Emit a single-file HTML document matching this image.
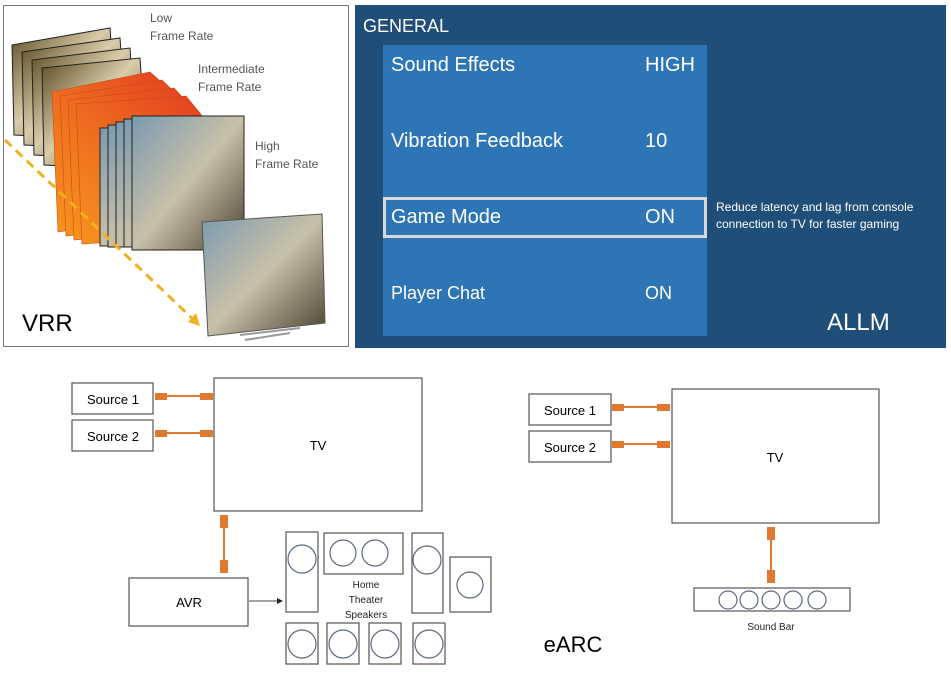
<!DOCTYPE html>
<html><head><meta charset="utf-8"><style>
html,body{margin:0;padding:0;background:#fff;}
svg{display:block;font-family:"Liberation Sans",sans-serif;}
</style></head><body>
<svg width="951" height="678" viewBox="0 0 951 678" xmlns="http://www.w3.org/2000/svg">
<defs>
<linearGradient id="gold" x1="0" y1="0" x2="1" y2="1"><stop offset="0" stop-color="#5a4a22"/><stop offset=".45" stop-color="#d8ccaa"/><stop offset="1" stop-color="#3a2a10"/></linearGradient>
<linearGradient id="org" x1="0" y1="1" x2="1" y2="0"><stop offset="0" stop-color="#f7941e"/><stop offset="1" stop-color="#e23a22"/></linearGradient>
<linearGradient id="pic" x1="0" y1="0" x2="1" y2="1"><stop offset="0" stop-color="#7a9ab0"/><stop offset=".5" stop-color="#c8c0a8"/><stop offset="1" stop-color="#4a4030"/></linearGradient>
</defs>
<rect x="3.5" y="5.5" width="345" height="341" fill="#fff" stroke="#777"/>
<g stroke="#222" stroke-width="1">
<polygon points="12,45 110,28 118,140 14,135" fill="url(#gold)"/>
<polygon points="22,52 120,38 128,150 24,145" fill="url(#gold)"/>
<polygon points="32,60 130,48 138,160 34,155" fill="url(#gold)"/>
<polygon points="42,68 140,58 148,170 44,165" fill="url(#gold)"/>
</g>
<g stroke="#c85010" stroke-width="0.6">
<polygon points="52,92 150,72 195,112 200,210 58,232" fill="url(#org)"/>
<polygon points="60,96 162,80 205,122 208,218 66,236" fill="url(#org)"/>
<polygon points="68,100 174,88 214,132 214,226 74,240" fill="url(#org)"/>
<polygon points="76,104 186,96 222,140 220,234 82,244" fill="url(#org)"/>
</g>
<g stroke="#222">
<rect x="100" y="128" width="110" height="118" fill="url(#pic)"/>
<rect x="108" y="125" width="115" height="122" fill="url(#pic)"/>
<rect x="116" y="122" width="115" height="125" fill="url(#pic)"/>
<rect x="124" y="119" width="115" height="128" fill="url(#pic)"/>
<rect x="132" y="116" width="112" height="134" fill="url(#pic)"/>
</g>
<polygon points="202,222 322,214 325,323 208,336" fill="url(#pic)" stroke="#555"/>
<path d="M240 335 L300 328 M245 340 L290 333" stroke="#999" stroke-width="2"/>
<line x1="5" y1="140" x2="196" y2="322" stroke="#f0b020" stroke-width="3" stroke-dasharray="9,6"/>
<polygon points="200,326 188,322 196,313" fill="#f0b020"/>
<g fill="#555" font-size="12">
<text x="150" y="22">Low</text><text x="150" y="40">Frame Rate</text>
<text x="198" y="73">Intermediate</text><text x="198" y="91">Frame Rate</text>
<text x="255" y="150">High</text><text x="255" y="168">Frame Rate</text>
</g>
<text x="22" y="331" font-size="24" fill="#000">VRR</text>
<rect x="355" y="5" width="591" height="343" fill="#1f4e79"/>
<rect x="383" y="45" width="324" height="291" fill="#2e75b6"/>
<rect x="384.5" y="198.5" width="321" height="38" fill="none" stroke="#d8d8d8" stroke-width="3"/>
<g fill="#fff">
<text x="363" y="32" font-size="18">GENERAL</text>
<text x="391" y="71" font-size="20">Sound Effects</text><text x="645" y="71" font-size="20">HIGH</text>
<text x="391" y="147" font-size="20">Vibration Feedback</text><text x="645" y="147" font-size="20">10</text>
<text x="391" y="223" font-size="20">Game Mode</text><text x="645" y="223" font-size="20">ON</text>
<text x="391" y="299" font-size="18">Player Chat</text><text x="645" y="299" font-size="18">ON</text>
<text x="716" y="211" font-size="12">Reduce latency and lag from console</text>
<text x="716" y="228" font-size="12">connection to TV for faster gaming</text>
<text x="827" y="330" font-size="24">ALLM</text>
</g>
<g fill="#fff" stroke="#555" stroke-width="1.2">
<rect x="72" y="383" width="81" height="31"/><rect x="72" y="420" width="81" height="31"/>
<rect x="214" y="378" width="208" height="133"/>
<rect x="129" y="578" width="119" height="48"/>
<rect x="286" y="532" width="32" height="80"/><rect x="324" y="533" width="79" height="41"/>
<rect x="412" y="533" width="31" height="80"/><rect x="450" y="557" width="41" height="55"/>
<rect x="286" y="623" width="32" height="41"/><rect x="327" y="623" width="32" height="41"/>
<rect x="369" y="623" width="32" height="41"/><rect x="413" y="623" width="32" height="41"/>
</g>
<g fill="none" stroke="#5a6a80" stroke-width="1.2">
<circle cx="302" cy="559" r="14"/><circle cx="343" cy="553" r="13"/><circle cx="375" cy="553" r="13"/>
<circle cx="427" cy="560" r="14"/><circle cx="470" cy="585" r="13"/>
<circle cx="302" cy="644" r="14"/><circle cx="343" cy="644" r="14"/><circle cx="385" cy="644" r="14"/><circle cx="429" cy="644" r="14"/>
</g>
<g stroke="#e07830" stroke-width="2"><line x1="160" y1="396" x2="208" y2="396"/><line x1="160" y1="433" x2="208" y2="433"/><line x1="224" y1="520" x2="224" y2="568"/></g>
<g fill="#e07830">
<rect x="155" y="393" width="12" height="7"/><rect x="200" y="393" width="13" height="7"/>
<rect x="155" y="430" width="12" height="7"/><rect x="200" y="430" width="13" height="7"/>
<rect x="220" y="515" width="8" height="13"/><rect x="220" y="560" width="8" height="13"/>
</g>
<line x1="249" y1="601" x2="278" y2="601" stroke="#444"/><polygon points="283,601 277,598 277,604" fill="#222"/>
<g font-size="13" fill="#000" text-anchor="middle">
<text x="113" y="404">Source 1</text><text x="113" y="441">Source 2</text>
<text x="318" y="450">TV</text><text x="189" y="607">AVR</text>
</g>
<g font-size="10" fill="#222" text-anchor="middle"><text x="366" y="588">Home</text><text x="366" y="603">Theater</text><text x="366" y="618">Speakers</text></g>
<g fill="#fff" stroke="#555" stroke-width="1.2">
<rect x="529" y="394" width="82" height="31"/><rect x="529" y="431" width="82" height="31"/>
<rect x="672" y="389" width="207" height="134"/>
<rect x="694" y="588" width="156" height="23"/>
</g>
<g fill="none" stroke="#5a6a80" stroke-width="1.2">
<circle cx="728" cy="600" r="9"/><circle cx="749" cy="600" r="9"/><circle cx="771" cy="600" r="9"/><circle cx="793" cy="600" r="9"/><circle cx="817" cy="600" r="9"/>
</g>
<g stroke="#e07830" stroke-width="2"><line x1="617" y1="407" x2="665" y2="407"/><line x1="617" y1="444" x2="665" y2="444"/><line x1="771" y1="532" x2="771" y2="578"/></g>
<g fill="#e07830">
<rect x="612" y="404" width="12" height="7"/><rect x="657" y="404" width="13" height="7"/>
<rect x="612" y="441" width="12" height="7"/><rect x="657" y="441" width="13" height="7"/>
<rect x="767" y="527" width="8" height="13"/><rect x="767" y="570" width="8" height="13"/>
</g>
<g font-size="13" fill="#000" text-anchor="middle">
<text x="570" y="415">Source 1</text><text x="570" y="452">Source 2</text>
<text x="775" y="462">TV</text>
</g>
<text x="771" y="630" font-size="10" fill="#222" text-anchor="middle">Sound Bar</text>
<text x="573" y="652" font-size="22" fill="#000" text-anchor="middle">eARC</text>
</svg>
</body></html>
